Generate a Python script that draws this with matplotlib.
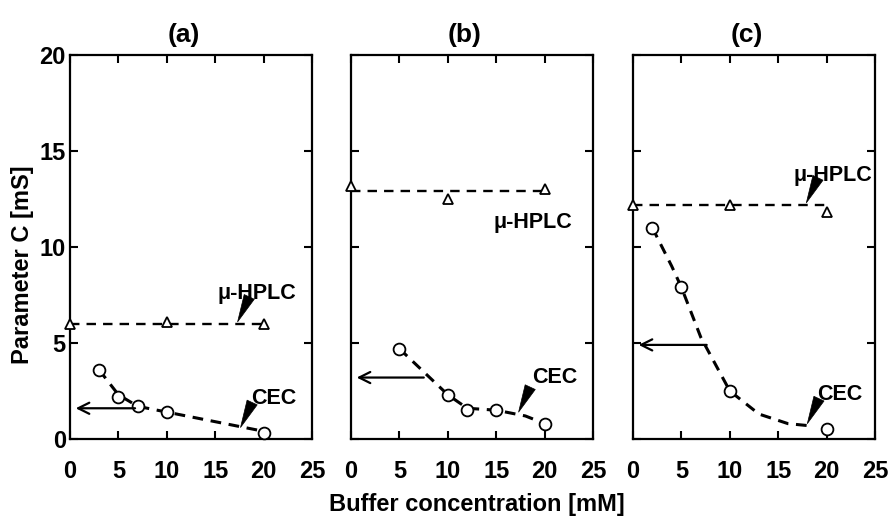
import numpy as np
import matplotlib
matplotlib.use("Agg")
import matplotlib.pyplot as plt

plt.rcParams['font.family'] = ['Liberation Sans', 'DejaVu Sans']
plt.rcParams['font.weight'] = 'bold'

# data, one entry per panel (a), (b), (c)
titles = ["(a)", "(b)", "(c)"]

hplc_x = [[0, 10, 20], [0, 10, 20], [0, 10, 20]]
hplc_y = [[6.0, 6.1, 6.0], [13.2, 12.5, 13.0], [12.2, 12.2, 11.8]]
hplc_fit = [6.0, 12.9, 12.2]

cec_x = [[3, 5, 7, 10, 20], [5, 10, 12, 15, 20], [2, 5, 10, 20]]
cec_y = [[3.6, 2.2, 1.7, 1.4, 0.3], [4.7, 2.3, 1.5, 1.5, 0.8], [11.0, 7.9, 2.5, 0.5]]
cec_fit_x = [[3, 5, 7, 10, 15, 18, 20], [5, 10, 12, 15, 18, 20], [2, 4, 5, 7, 10, 13, 16, 18]]
cec_fit_y = [[3.6, 2.3, 1.7, 1.4, 0.9, 0.6, 0.4], [4.7, 2.3, 1.6, 1.5, 1.2, 0.8], [11.0, 9.0, 7.9, 5.3, 2.5, 1.3, 0.8, 0.7]]

axis_arrow_y = [1.6, 3.2, 4.9]
axis_arrow_x = [7.0, 7.8, 7.9]

# label annotations: (text x, text y, tip x, tip y)
hplc_label = [(19.3, 7.6, 17.3, 6.1), (18.8, 11.3, None, None), (20.6, 13.7, 17.9, 12.3)]
cec_label = [(21.0, 2.1, 17.6, 0.6), (21.0, 3.2, 17.3, 1.4), (21.3, 2.3, 18.0, 0.8)]

fig = plt.figure(figsize=(8.92, 5.27), dpi=100)
lefts = [0.0785, 0.3935, 0.7096]
axes = []
for i in range(3):
    ax = fig.add_axes([lefts[i], 0.167, 0.2715, 0.7287])
    axes.append(ax)

    ax.hlines(hplc_fit[i], 0, 20, colors='k', linestyles=(0, (4, 3)), lw=1.7, zorder=2)
    ax.plot(hplc_x[i], hplc_y[i], linestyle='none', marker='^', ms=7, mfc='white',
            mec='k', mew=1.3, clip_on=False, zorder=3)

    ax.plot(cec_fit_x[i], cec_fit_y[i], color='k', linestyle=(0, (3.5, 2.5)), lw=2.2, zorder=2)
    ax.plot(cec_x[i], cec_y[i], linestyle='none', marker='o', ms=8.5, mfc='white',
            mec='k', mew=1.3, clip_on=False, zorder=3)

    ax.annotate('', xy=(0.3, axis_arrow_y[i]), xytext=(axis_arrow_x[i], axis_arrow_y[i]),
                arrowprops=dict(arrowstyle='->', color='k', lw=1.6, mutation_scale=20))

    tx, ty, px, py = hplc_label[i]
    ax.text(tx, ty, "μ-HPLC", ha='center', va='center', fontsize=15.5, fontweight='bold')
    if px is not None:
        ax.annotate('', xy=(px, py), xytext=(px + 1.2, py + 1.3),
                    arrowprops=dict(arrowstyle='wedge,tail_width=0.8', color='k', lw=0.5,
                                    shrinkA=0, shrinkB=0))
    tx, ty, px, py = cec_label[i]
    ax.text(tx, ty, "CEC", ha='center', va='center', fontsize=15.5, fontweight='bold')
    ax.annotate('', xy=(px, py), xytext=(px + 1.2, py + 1.3),
                arrowprops=dict(arrowstyle='wedge,tail_width=0.8', color='k', lw=0.5,
                                shrinkA=0, shrinkB=0))

    ax.set_xlim(0, 25)
    ax.set_ylim(0, 20)
    ax.set_xticks([0, 5, 10, 15, 20, 25])
    ax.set_yticks([0, 5, 10, 15, 20])
    ax.tick_params(direction='in', length=6, width=1.5, top=True, right=True,
                   labelsize=17)
    ax.tick_params(axis='x', pad=15)
    ax.tick_params(axis='y', pad=3)
    for lab in ax.get_xticklabels() + ax.get_yticklabels():
        lab.set_fontweight('bold')
    for s in ax.spines.values():
        s.set_linewidth(1.6)
    if i > 0:
        ax.set_yticklabels([])
    ax.set_title(titles[i], fontsize=19, fontweight='bold', pad=9, x=0.47)

axes[0].set_ylabel("Parameter C [mS]", fontsize=17, fontweight='bold')
axes[0].yaxis.set_label_coords(-0.15, 0.453)
fig.text(0.535, 0.042, "Buffer concentration [mM]", ha='center', va='center',
         fontsize=17, fontweight='bold')

fig.savefig("out.png", dpi=100)
